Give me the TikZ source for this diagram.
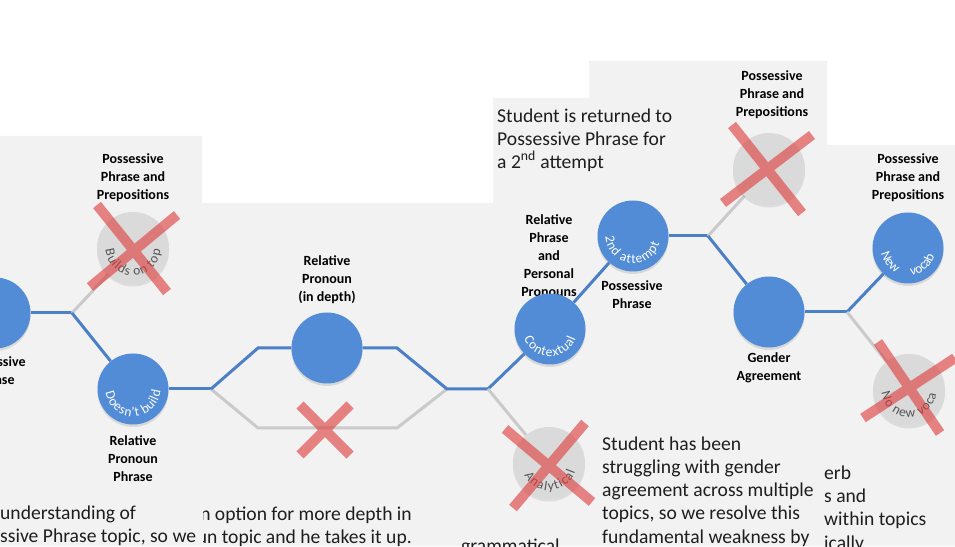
\documentclass[tikz,border=0pt]{standalone}
\usepackage{fontspec}
\setmainfont{Carlito}
\usetikzlibrary{decorations.text,shadows}
\pgfdeclarelayer{back}
\pgfdeclarelayer{lines}
\pgfsetlayers{back,lines,main}
\definecolor{bgray}{RGB}{242,242,242}
\definecolor{cblue}{RGB}{82,139,214}
\definecolor{lblue}{RGB}{76,128,198}
\definecolor{lgray}{RGB}{202,202,202}
\definecolor{cgray}{RGB}{218,218,218}
\definecolor{xred}{RGB}{222,60,60}
\definecolor{tgray}{RGB}{85,85,85}
\definecolor{ttext}{RGB}{30,30,30}
\newcommand\circfont{\fontsize{13.5}{16}\selectfont}
% #1 node, #2 text, #3 colour, #4 start angle, #5 end angle
\newcommand\arctext[5]{\path[decorate,decoration={text along path,text align={fit to path},text color=#3,text={|\circfont|#2}}] ([shift={(#4:27.5)}]#1.center) arc (#4:#5:27.5);}
\begin{document}
\begin{tikzpicture}[x=1pt,y=1pt,
  bcirc/.style={circle,fill=cblue,minimum size=71pt,inner sep=0pt,drop shadow={shadow xshift=0pt,shadow yshift=-2.5pt,opacity=0.22}},
  gcirc/.style={circle,fill=cgray,minimum size=72pt,inner sep=0pt,drop shadow={shadow xshift=0pt,shadow yshift=-2.5pt,opacity=0.18}},
  bline/.style={draw=lblue,line width=3pt},
  gline/.style={draw=lgray,line width=3pt},
  lbl/.style={font=\fontsize{14}{18}\selectfont\bfseries,align=center,text=black,inner sep=0pt},
  story/.style={font=\fontsize{19.6}{23.2}\selectfont,align=left,anchor=base west,inner sep=0pt,text=ttext},
  xmark/.style={draw=xred,line width=10pt,draw opacity=0.62}]
\useasboundingbox (0,0) rectangle (955,546);
\clip (0,0) rectangle (955,546);
\begin{pgfonlayer}{back}
\fill[white] (0,0) rectangle (955,546);
\fill[bgray] (0,0) -- (0,410) -- (202,410) -- (202,343) -- (493,343) -- (493,448) -- (589,448) -- (589,485) -- (827,485) -- (827,401) -- (955,401) -- (955,0) -- cycle;
\end{pgfonlayer}
% junctions
\coordinate (j1) at (72,233);
\coordinate (j2) at (211,157);
\coordinate (u1) at (258,198);
\coordinate (u2) at (397,198);
\coordinate (l1) at (258,118);
\coordinate (l2) at (397,118);
\coordinate (j3) at (447,157);
\coordinate (j4) at (488,157);
\coordinate (j5) at (708,310);
\coordinate (j6) at (847,234);
% labels
\node[lbl] (L1) at (133,368) {Possessive\\Phrase and\\Prepositions};
\node[lbl] (L0) at (-5,175) {Possessive\\Phrase};
\node[lbl] (L2) at (133,87) {Relative\\Pronoun\\Phrase};
\node[lbl] (L3) at (327,266) {Relative\\Pronoun\\(in depth)};
\node[lbl] (L4) at (549,290) {Relative\\Phrase\\and\\Personal\\Pronouns};
\node[lbl] (L6) at (632,251) {Possessive\\Phrase};
\node[lbl] (L7) at (772,451) {Possessive\\Phrase and\\Prepositions};
\node[lbl] (L8) at (769,178) {Gender\\Agreement};
\node[lbl] (L9) at (908,368) {Possessive\\Phrase and\\Prepositions};
% circles
\node[bcirc] (c1) at (-5,233) {};
\node[gcirc] (b1) at (133,298) {};
\node[bcirc] (b2) at (133,157) {};
\node[bcirc] (b3) at (327,198) {};
\node[bcirc] (b4) at (550,217) {};
\node[gcirc] (b5) at (549,83) {};
\node[bcirc] (b6) at (633,310) {};
\node[gcirc] (b7) at (769,377) {};
\node[bcirc] (b8) at (769,234) {};
\node[bcirc] (b9) at (908,298) {};
\node[gcirc] (b10) at (909,156) {};
% connectors
\begin{pgfonlayer}{lines}
\draw[bline] (c1) -- (j1);
\draw[gline] (j1) -- (b1);
\draw[bline] (j1) -- (b2);
\draw[bline] (b2) -- (j2);
\draw[gline] (j2) -- (l1) -- (l2) -- (j3);
\draw[bline] (j2) -- (u1) -- (b3);
\draw[bline] (b3) -- (u2) -- (j3) -- (j4);
\draw[bline] (j4) -- (b4);
\draw[gline] (j4) -- (b5);
\draw[bline] (b4) -- (b6);
\draw[bline] (b6) -- (j5);
\draw[gline] (j5) -- (b7);
\draw[bline] (j5) -- (b8);
\draw[bline] (b8) -- (j6);
\draw[bline] (j6) -- (b9);
\draw[gline] (j6) -- (b10);
\end{pgfonlayer}
% circle texts
\arctext{b1}{Builds on top}{tgray}{184}{356}
\arctext{b2}{Doesn't build}{white}{188}{356}
\arctext{b4}{Contextual}{white}{200}{340}
\arctext{b5}{Analytical}{tgray}{206}{342}
\arctext{b6}{2nd attempt}{white}{182}{344}
\arctext{b10}{No new voca}{tgray}{186}{352}
\path[decorate,decoration={text along path,text align={fit to path stretching spaces},text color=white,text={|\circfont|New vocab}}] ([shift={(192:27.5)}]b9.center) arc (192:344:27.5);
% crosses
\draw[xmark] (97,341) -- (167,254) (177,331) -- (90,259);
\draw[xmark] (300,141) -- (350,91) (350,141) -- (300,91);
\draw[xmark] (505,117) -- (592,44) (585,123) -- (513,38);
\draw[xmark] (732,421) -- (802,333) (812,411) -- (723,343);
\draw[xmark] (878,204) -- (940,113) (955,188) -- (863,128);
% narrative texts (base = baseline of last line)
\node[story] (t1) at (497,377.5) {Student is returned to\\Possessive Phrase for\\a 2\textsuperscript{nd} attempt};
\node[story] (t2) at (602,3) {Student has been\\struggling with gender\\agreement across multiple\\topics, so we resolve this\\fundamental weakness by};
\node[story] (t3) at (0,3.5) {understanding of\\ssive Phrase topic, so we};
\begin{scope}
\clip (203,0) rectangle (440,60);
\node[story,anchor=base east,align=right] (t4) at (412,2.5) {n option for more depth in\\un topic and he takes it up.};
\end{scope}
\node[story] (t5) at (461,-6) {grammatical};
\node[story] (t6) at (824,-3) {erb\\s and\\within topics\\ically};
\end{tikzpicture}
\end{document}
